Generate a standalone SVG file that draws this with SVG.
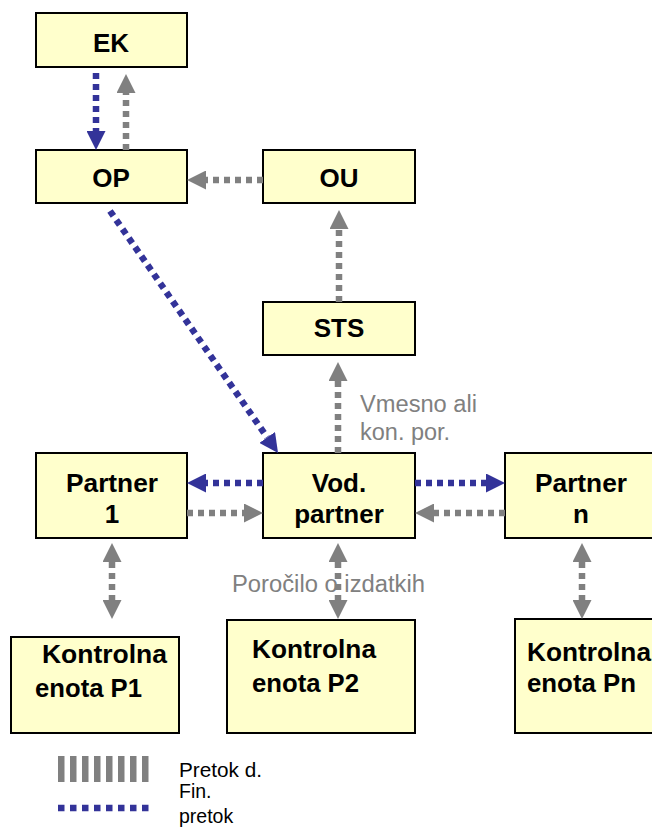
<svg xmlns="http://www.w3.org/2000/svg" width="652" height="830" viewBox="0 0 652 830">
<style>
.box{fill:#FFFFCC;stroke:#000;stroke-width:2}
.t{font-family:"Liberation Sans",Arial,sans-serif;font-weight:bold;font-size:26px;fill:#000}
.tc{text-anchor:middle}
.g{font-family:"Liberation Sans",Arial,sans-serif;font-size:23.5px;fill:#808080}
.lg{font-family:"Liberation Sans",Arial,sans-serif;font-size:19.5px;fill:#000}
.blue{stroke:#333399;stroke-width:6.5;stroke-dasharray:6 5;fill:none}
.gray{stroke:#808080;stroke-width:6.5;stroke-dasharray:6 5;fill:none}
</style>
<defs>
<marker id="hb" viewBox="0 0 19 19" refX="0" refY="9.5" markerWidth="19" markerHeight="19" markerUnits="userSpaceOnUse" orient="auto-start-reverse"><path d="M0,0 L19,9.5 L0,19 z" fill="#333399"/></marker>
<marker id="hg" viewBox="0 0 19 19" refX="0" refY="9.5" markerWidth="19" markerHeight="19" markerUnits="userSpaceOnUse" orient="auto-start-reverse"><path d="M0,0 L19,9.5 L0,19 z" fill="#808080"/></marker>
</defs>
<rect width="652" height="830" fill="#fff"/>
<g id="EK"><rect class="box" x="36" y="13" width="151" height="54"/><text class="t tc" x="111" y="52">EK</text></g>
<g id="OP"><rect class="box" x="36" y="150" width="151" height="53"/><text class="t tc" x="111" y="187">OP</text></g>
<g id="OU"><rect class="box" x="263" y="150" width="152" height="53"/><text class="t tc" x="339" y="187">OU</text></g>
<g id="STS"><rect class="box" x="263" y="302" width="152" height="53"/><text class="t tc" x="339" y="337">STS</text></g>
<g id="Partner1"><rect class="box" x="36" y="453" width="151" height="85"/><text class="t tc" x="112" y="492" textLength="92" lengthAdjust="spacingAndGlyphs">Partner</text><text class="t tc" x="112" y="523">1</text></g>
<g id="VodPartner"><rect class="box" x="263" y="453" width="152" height="85"/><text class="t tc" x="339" y="492">Vod.</text><text class="t tc" x="339" y="523">partner</text></g>
<g id="PartnerN"><rect class="box" x="505" y="453" width="160" height="85"/><text class="t tc" x="581" y="492" textLength="92" lengthAdjust="spacingAndGlyphs">Partner</text><text class="t tc" x="581" y="523">n</text></g>
<g id="KontrolnaP1"><rect class="box" x="11" y="637" width="168" height="96"/><text class="t" x="42" y="663" textLength="125" lengthAdjust="spacingAndGlyphs">Kontrolna</text><text class="t" x="35" y="697" textLength="107" lengthAdjust="spacingAndGlyphs">enota P1</text></g>
<g id="KontrolnaP2"><rect class="box" x="227" y="620" width="188" height="113"/><text class="t" x="252" y="658" textLength="124" lengthAdjust="spacingAndGlyphs">Kontrolna</text><text class="t" x="252" y="692" textLength="107" lengthAdjust="spacingAndGlyphs">enota P2</text></g>
<g id="KontrolnaPn"><rect class="box" x="515" y="619" width="150" height="114"/><text class="t" x="527" y="661" textLength="124" lengthAdjust="spacingAndGlyphs">Kontrolna</text><text class="t" x="527" y="692" textLength="109" lengthAdjust="spacingAndGlyphs">enota Pn</text></g>
<g id="labels">
<text class="g" x="360" y="412" textLength="117" lengthAdjust="spacingAndGlyphs">Vmesno ali</text>
<text class="g" x="360" y="440">kon. por.</text>
<text class="g" x="232" y="592" textLength="193" lengthAdjust="spacingAndGlyphs">Poročilo o izdatkih</text>
</g>
<g id="connectors">
<line class="blue" x1="96" y1="73" x2="96" y2="131" marker-end="url(#hb)"/>
<line class="gray" x1="126" y1="150" x2="126" y2="93" marker-end="url(#hg)"/>
<line class="gray" x1="263" y1="180" x2="206" y2="180" marker-end="url(#hg)"/>
<line class="gray" x1="339" y1="302" x2="339" y2="229" marker-end="url(#hg)"/>
<line class="blue" x1="110" y1="211" x2="267.2" y2="437.4" marker-end="url(#hb)"/>
<line class="gray" x1="338" y1="453" x2="338" y2="381" marker-end="url(#hg)"/>
<line class="blue" x1="263" y1="483" x2="206" y2="483" marker-end="url(#hb)"/>
<line class="blue" x1="415" y1="483" x2="486" y2="483" marker-end="url(#hb)"/>
<line class="gray" x1="187" y1="513" x2="244" y2="513" marker-end="url(#hg)"/>
<line class="gray" x1="505" y1="513" x2="434" y2="513" marker-end="url(#hg)"/>
<line class="gray" x1="112" y1="562" x2="112" y2="600" marker-start="url(#hg)" marker-end="url(#hg)"/>
<line class="gray" x1="338" y1="562" x2="338" y2="600" marker-start="url(#hg)" marker-end="url(#hg)"/>
<line class="gray" x1="582" y1="562" x2="582" y2="600" marker-start="url(#hg)" marker-end="url(#hg)"/>
</g>
<g id="legend">
<line x1="58" y1="769" x2="149" y2="769" stroke="#808080" stroke-width="26" stroke-dasharray="6.5 5.5"/>
<line x1="58" y1="808" x2="149" y2="808" stroke="#333399" stroke-width="6.5" stroke-dasharray="6.5 5.5"/>
<text class="lg" x="179" y="777" textLength="83" lengthAdjust="spacingAndGlyphs">Pretok d.</text>
<text class="lg" x="179" y="798">Fin.</text>
<text class="lg" x="179" y="823">pretok</text>
</g>
</svg>
